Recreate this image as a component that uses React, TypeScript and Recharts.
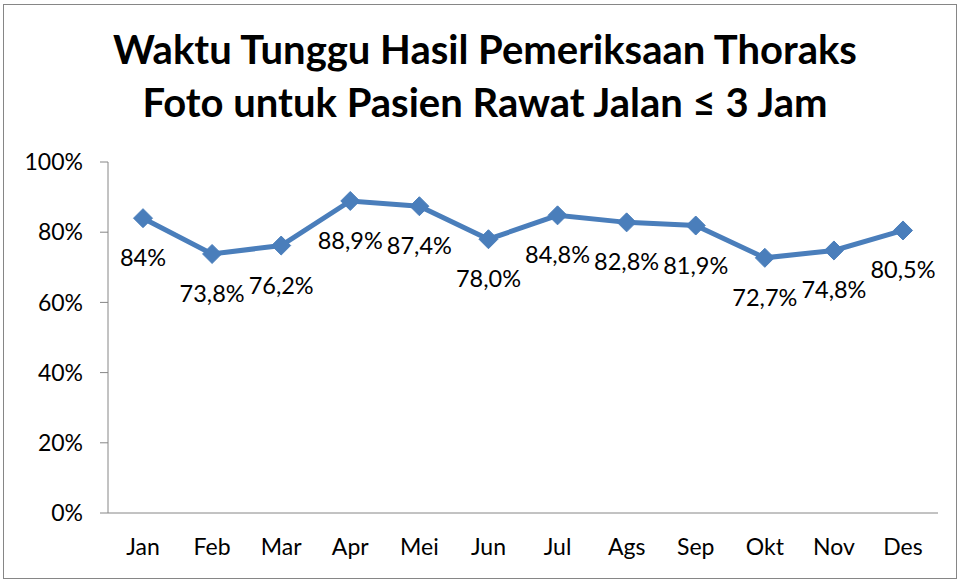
import React from "react";
import { LineChart, Line, XAxis, YAxis, LabelList } from "recharts";

const months = ["Jan", "Feb", "Mar", "Apr", "Mei", "Jun", "Jul", "Ags", "Sep", "Okt", "Nov", "Des"];
const values = [0.84, 0.738, 0.762, 0.889, 0.874, 0.78, 0.848, 0.828, 0.819, 0.727, 0.748, 0.805];
const labels = ["84%", "73,8%", "76,2%", "88,9%", "87,4%", "78,0%", "84,8%", "82,8%", "81,9%", "72,7%", "74,8%", "80,5%"];
const yTicks = [0, 0.2, 0.4, 0.6, 0.8, 1];

const data = months.map((m, i) => ({ month: m, value: values[i], label: labels[i] }));

const FONT = "Lato, 'Open Sans', sans-serif";
const BLUE = "#4A7EBB";
const GRAY = "#868686";

const Diamond = (props: any) => {
  const { cx, cy } = props;
  if (cx == null || cy == null) return null;
  const r = 9.5;
  return (
    <polygon
      points={`${cx},${cy - r} ${cx + r},${cy} ${cx},${cy + r} ${cx - r},${cy}`}
      fill={BLUE}
      stroke={BLUE}
      strokeWidth={1}
    />
  );
};

const PointLabel = (props: any) => {
  const { x, y, value } = props;
  return (
    <text x={x} y={y + 39} textAnchor="middle" dominantBaseline="central" fontSize={23.5} fontFamily={FONT} fill="#000">
      {value}
    </text>
  );
};

export default function App() {
  return (
    <div style={{ position: "absolute", left: 0, top: 0, width: 959, height: 580, background: "#fff" }}>
      <div
        style={{
          position: "absolute",
          left: 3,
          top: 4,
          width: 952,
          height: 573,
          border: `1px solid ${GRAY}`,
        }}
      />
      <div
        style={{
          position: "absolute",
          left: 0,
          top: 23,
          width: 970,
          textAlign: "center",
          fontFamily: FONT,
          fontWeight: 700,
          fontSize: 40,
          lineHeight: "53px",
          color: "#000",
        }}
      >
        Waktu Tunggu Hasil Pemeriksaan Thoraks
        <br />
        Foto untuk Pasien Rawat Jalan ≤ 3 Jam
      </div>
      <LineChart
        width={959}
        height={580}
        data={data}
        margin={{ top: 162, right: 21, bottom: 0, left: 0 }}
        style={{ position: "absolute", left: 0, top: 0 }}
      >
        <YAxis
          domain={[0, 1]}
          ticks={yTicks}
          width={108}
          tickFormatter={(v: number) => `${Math.round(v * 100)}%`}
          stroke={GRAY}
          tickSize={8}
          tickMargin={17}
          tick={{ fontSize: 23, fontFamily: FONT, fill: "#000" }}
          interval={0}
        />
        <XAxis
          dataKey="month"
          height={67}
          stroke={GRAY}
          tickLine={false}
          tickMargin={20}
          padding={{ left: 35, right: 35 }}
          tick={{ fontSize: 23, fontFamily: FONT, fill: "#000" }}
          interval={0}
        />
        <Line
          type="linear"
          dataKey="value"
          stroke={BLUE}
          strokeWidth={5}
          dot={<Diamond />}
          activeDot={false}
          isAnimationActive={false}
        >
          <LabelList dataKey="label" content={<PointLabel />} />
        </Line>
      </LineChart>
    </div>
  );
}
